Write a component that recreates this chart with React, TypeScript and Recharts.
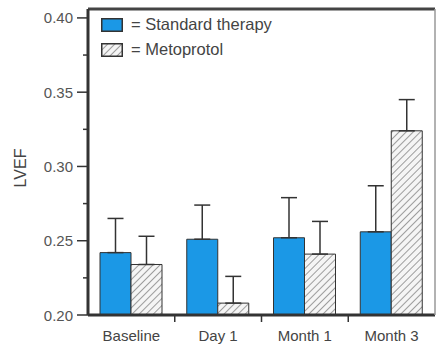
import React from "react";
import {
  BarChart,
  Bar,
  XAxis,
  YAxis,
  ErrorBar,
  Legend,
} from "recharts";

const categories = ["Baseline", "Day 1", "Month 1", "Month 3"];
const seriesNames = ["Standard therapy", "Metoprotol"];
const standardTherapy = [0.242, 0.251, 0.252, 0.256];
const standardErr = [0.023, 0.023, 0.027, 0.031];
const metoprotol = [0.234, 0.208, 0.241, 0.324];
const metoprotolErr = [0.019, 0.018, 0.022, 0.021];
const yTicks = [0.2, 0.225, 0.25, 0.275, 0.3, 0.325, 0.35, 0.375, 0.4];
const majorTicks = ["0.20", "0.25", "0.30", "0.35", "0.40"];

const FONT = "'Liberation Sans', Arial, Helvetica, sans-serif";
const BLUE = "#1b98e6";
const INK = "#333";

const data = categories.map((name, i) => ({
  name,
  standard: standardTherapy[i],
  standardErr: [0, standardErr[i]],
  meto: metoprotol[i],
  metoErr: [0, metoprotolErr[i]],
}));

function YTick(props: any) {
  const { x, y, payload } = props;
  const label = Number(payload.value).toFixed(3).replace(/0$/, "");
  const major = majorTicks.includes(label);
  return (
    <g>
      <line x1={x - (major ? 11 : 5)} x2={x} y1={y} y2={y} stroke={INK} strokeWidth={1.5} />
      {major && (
        <text x={x - 15} y={y} textAnchor="end" dominantBaseline="central" fill="#555" fontSize={15} fontFamily={FONT}>
          {label}
        </text>
      )}
    </g>
  );
}

function XTick(props: any) {
  const { x, y, payload, index } = props;
  const half = payload.offset || 43.4;
  return (
    <g>
      {index < categories.length - 1 && (
        <line x1={x + half} x2={x + half} y1={y} y2={y + 7} stroke={INK} strokeWidth={1.5} />
      )}
      <text x={x} y={y + 26} textAnchor="middle" fill="#444" fontSize={15} fontFamily={FONT}>
        {payload.value}
      </text>
    </g>
  );
}

function LegendBox(props: any) {
  const items = [...(props.payload || [])].sort(
    (a: any, b: any) => seriesNames.indexOf(a.value) - seriesNames.indexOf(b.value)
  );
  return (
    <div style={{ fontFamily: FONT, fontSize: 16.5, color: "#444" }}>
      {items.map((e: any) => (
        <div key={e.value} style={{ display: "flex", alignItems: "center", height: 25 }}>
          <svg width={22} height={14}>
            <rect x={0.75} y={0.75} width={20.5} height={12.5} fill={e.payload?.fill || e.color} stroke={INK} strokeWidth={1.5} />
          </svg>
          <span style={{ marginLeft: 8 }}>= {e.value}</span>
        </div>
      ))}
    </div>
  );
}

export default function App() {
  return (
    <div style={{ position: "absolute", left: 0, top: 0, width: 436, height: 345, background: "#fff" }}>
      <BarChart width={436} height={345} data={data} margin={{ top: 0, right: 0, bottom: 0, left: 0 }} barGap={0} barSize={31}>
        <defs>
          <pattern id="hatch" patternUnits="userSpaceOnUse" width={5} height={5} patternTransform="rotate(45)">
            <rect width={5} height={5} fill="#f5f5f5" />
            <line x1={0} y1={0} x2={0} y2={5} stroke="#777" strokeWidth={1.4} />
          </pattern>
        </defs>
        <XAxis
          dataKey="name"
          height={30}
          tickSize={0}
          tickMargin={0}
          tickLine={false}
          axisLine={{ stroke: INK, strokeWidth: 3 }}
          tick={<XTick />}
          interval={0}
        />
        <XAxis xAxisId="top" dataKey="name" orientation="top" height={9} tick={false} tickLine={false} axisLine={{ stroke: "#444", strokeWidth: 3 }} />
        <YAxis
          domain={[0.2, 0.406]}
          ticks={yTicks}
          width={88}
          tickSize={0}
          tickMargin={0}
          tickLine={false}
          allowDataOverflow
          axisLine={{ stroke: INK, strokeWidth: 3 }}
          tick={<YTick />}
          interval={0}
          label={{
            content: (p: any) => {
              const vb = p.viewBox || { x: 0, y: 9, height: 306 };
              const cx = 20;
              const cy = vb.y + vb.height / 2 + 6;
              return (
                <text x={cx} y={cy} transform={`rotate(-90 ${cx} ${cy})`} textAnchor="middle" dominantBaseline="central" fill="#444" fontSize={16} fontFamily={FONT}>
                  LVEF
                </text>
              );
            },
          }}
        />
        <YAxis yAxisId="right" orientation="right" width={1} domain={[0.2, 0.406]} tick={false} tickLine={false} axisLine={{ stroke: "#999", strokeWidth: 1.5 }} />
        <Legend
          layout="horizontal"
          verticalAlign="middle"
          align="center"
          content={<LegendBox />}
          wrapperStyle={{ top: 12, left: 101, width: 220 }}
        />
        <Bar dataKey="standard" name={seriesNames[0]} fill={BLUE} stroke={INK} strokeWidth={1} isAnimationActive={false}>
          <ErrorBar dataKey="standardErr" width={8} stroke={INK} strokeWidth={1.5} direction="y" />
        </Bar>
        <Bar dataKey="meto" name={seriesNames[1]} fill="url(#hatch)" stroke={INK} strokeWidth={1} isAnimationActive={false}>
          <ErrorBar dataKey="metoErr" width={8} stroke={INK} strokeWidth={1.5} direction="y" />
        </Bar>
      </BarChart>
    </div>
  );
}
